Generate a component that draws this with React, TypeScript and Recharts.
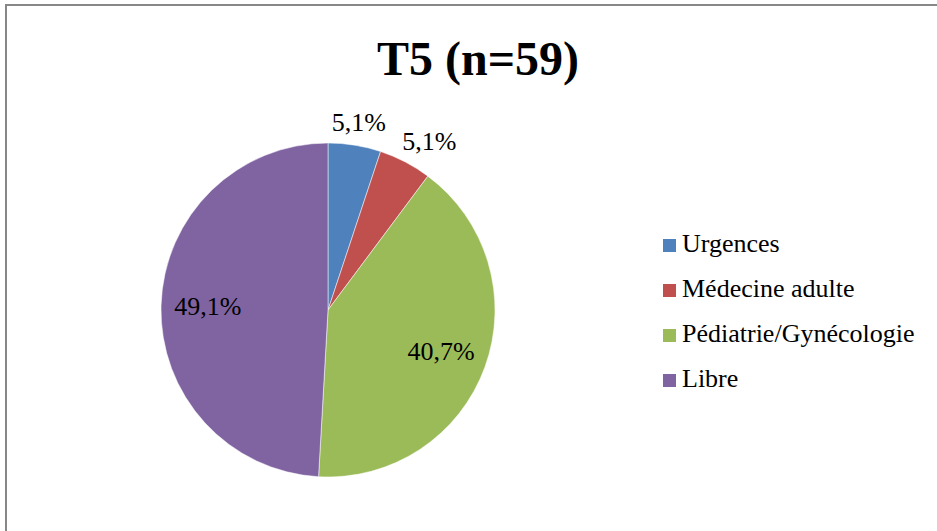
import React from "react";
import { Cell, Legend, Pie, PieChart } from "recharts";

const title = "T5 (n=59)";
const categories = ["Urgences", "Médecine adulte", "Pédiatrie/Gynécologie", "Libre"];
const shares = [5.1, 5.1, 40.7, 49.1];
const colors = ["#4F81BD", "#C0504D", "#9BBB59", "#8064A2"];

const data = categories.map((name, i) => ({ name, value: shares[i] }));

const FONT = '"Liberation Serif", "Times New Roman", Times, serif';
const RADIAN = Math.PI / 180;

// small slices get their label outside (Excel-like best fit), big ones inside
function renderLabel(props: any) {
  const { cx, cy, midAngle, outerRadius, value } = props;
  const cos = Math.cos(-midAngle * RADIAN);
  const sin = Math.sin(-midAngle * RADIAN);
  let x: number;
  let y: number;
  if (value < 10) {
    const d = outerRadius + 13;
    x = cx + d * cos + 85 * cos * Math.abs(cos);
    y = cy + d * sin + 10 * sin;
  } else {
    const d = outerRadius * 0.72;
    x = cx + d * cos;
    y = cy + d * sin;
  }
  return (
    <text
      x={x}
      y={y}
      fill="#000"
      textAnchor="middle"
      dominantBaseline="central"
      fontFamily={FONT}
      fontSize={26}
    >
      {value.toFixed(1).replace(".", ",")}%
    </text>
  );
}

function LegendContent() {
  return (
    <div style={{ fontFamily: FONT, fontSize: 26, color: "#000" }}>
      {categories.map((name, i) => (
        <div key={name} style={{ display: "flex", alignItems: "center", height: 45 }}>
          <span
            style={{
              display: "inline-block",
              width: 13,
              height: 13,
              background: colors[i],
              marginRight: 6,
              marginTop: 4,
            }}
          />
          <span>{name}</span>
        </div>
      ))}
    </div>
  );
}

export default function App() {
  return (
    <div style={{ position: "fixed", left: 0, top: 0, width: 937, height: 531, background: "#fff" }}>
      <PieChart width={937} height={531} margin={{ top: 0, right: 0, bottom: 0, left: 0 }}>
        <rect x={6} y={5} width={960} height={560} fill="none" stroke="#878787" strokeWidth={2} />
        <text
          x={478}
          y={75}
          textAnchor="middle"
          fontFamily={FONT}
          fontWeight="bold"
          fontSize={48}
          fill="#000"
        >
          {title}
        </text>
        <Pie
          data={data}
          dataKey="value"
          nameKey="name"
          cx={328}
          cy={310}
          outerRadius={167}
          startAngle={90}
          endAngle={-270}
          stroke="#ffffff"
          strokeWidth={0.5}
          label={renderLabel}
          labelLine={false}
          isAnimationActive={false}
        >
          {data.map((d, i) => (
            <Cell key={d.name} fill={colors[i]} />
          ))}
        </Pie>
        <Legend
          layout="vertical"
          content={<LegendContent />}
          wrapperStyle={{ left: 663, top: 221, width: 270 }}
        />
      </PieChart>
    </div>
  );
}
